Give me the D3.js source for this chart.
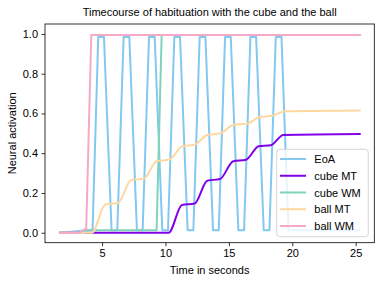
<!DOCTYPE html>
<html>
<head>
<meta charset="utf-8">
<script src="https://cdn.jsdelivr.net/npm/d3@7"></script>
<style>
  body { margin: 0; background: #fff; }
  svg { font-family: "Liberation Sans", Arial, sans-serif; }
</style>
</head>
<body>
<div id="chart"></div>
<script>
// series data (time in s, activation)
var eoaT = [1.6, 3.9, 4.25, 4.7, 5.15, 5.75, 6.2, 6.7, 7.15, 7.75, 8.2, 8.7, 9.15, 9.75, 10.2, 10.7, 11.15, 11.75, 12.2, 12.7, 13.15, 13.75, 14.2, 14.7, 15.15, 15.75, 16.2, 16.7, 17.15, 17.75, 18.2, 18.7, 19.15, 19.7, 25.4];
var eoaV = [0, 0.013, 0.013, 0.985, 0.985, 0.013, 0.013, 0.985, 0.985, 0.013, 0.013, 0.985, 0.985, 0.013, 0.013, 0.985, 0.985, 0.013, 0.013, 0.985, 0.985, 0.013, 0.013, 0.985, 0.985, 0.013, 0.013, 0.985, 0.985, 0.013, 0.013, 0.985, 0.985, 0.013, 0.013];

var cubeMtT = [1.6, 10.25, 11.3, 12.3, 13.3, 14.3, 15.35, 16.35, 17.35, 18.3, 19.3, 25.4];
var cubeMtV = [0, 0, 0.14, 0.147, 0.262, 0.27, 0.36, 0.367, 0.435, 0.44, 0.492, 0.497];

var cubeWmT = [1.6, 3.45, 3.9, 9.3, 9.7, 25.4];
var cubeWmV = [0, 0, 0.013, 0.013, 0.995, 0.995];

var ballMtT = [1.6, 4.2, 5.25, 6.25, 7.3, 8.3, 9.3, 10.3, 11.35, 12.3, 13.3, 14.3, 15.4, 16.4, 17.45, 18.4, 19.45, 25.4];
var ballMtV = [0, 0, 0.142, 0.15, 0.265, 0.272, 0.36, 0.368, 0.435, 0.443, 0.492, 0.5, 0.543, 0.548, 0.582, 0.588, 0.611, 0.615];

var ballWmT = [1.6, 3.25, 3.55, 3.75, 4.15, 25.4];
var ballWmV = [0, 0, 0.015, 0.02, 0.995, 0.995];

var seriesNames = ["EoA", "cube MT", "cube WM", "ball MT", "ball WM"];
var seriesColors = ["#82c8f0", "#8000e8", "#7fd3b8", "#ffd8a0", "#f6a8c8"];
var xTicks = [5, 10, 15, 20, 25];
var yTicks = [0.0, 0.2, 0.4, 0.6, 0.8, 1.0];

function draw() {
    var w = 382, h = 283;
    var left = 45, right = 374.3, top = 24, bottom = 242.7;

    var svg = d3.select("#chart").append("svg")
        .attr("width", w)
        .attr("height", h);

    var x = d3.scaleLinear().domain([0.5, 26.47]).range([left, right]);
    var y = d3.scaleLinear().domain([-0.05, 1.05]).range([bottom, top]);

    var series = [
        {t: eoaT, v: eoaV, smooth: false},
        {t: cubeMtT, v: cubeMtV, smooth: true},
        {t: cubeWmT, v: cubeWmV, smooth: false},
        {t: ballMtT, v: ballMtV, smooth: true},
        {t: ballWmT, v: ballWmV, smooth: false}
    ];

    var g = svg.append("g");
    series.forEach(function(s, i) {
        var pts = s.t.map(function(t, j) { return [t, s.v[j]]; });
        var line = d3.line()
            .x(function(d) { return x(d[0]); })
            .y(function(d) { return y(d[1]); })
            .curve(s.smooth ? d3.curveMonotoneX : d3.curveLinear);
        g.append("path")
            .attr("d", line(pts))
            .attr("fill", "none")
            .attr("stroke", seriesColors[i])
            .attr("stroke-width", 2)
            .attr("stroke-linejoin", "round");
    });

    // axes
    var xAxis = d3.axisBottom(x).tickValues(xTicks).tickFormat(d3.format("d")).tickSizeOuter(0).tickSize(3.5).tickPadding(3.5);
    var yAxis = d3.axisLeft(y).tickValues(yTicks).tickFormat(d3.format(".1f")).tickSizeOuter(0).tickSize(3.5).tickPadding(3.5);

    var gx = svg.append("g").attr("transform", "translate(0," + bottom + ")").call(xAxis);
    var gy = svg.append("g").attr("transform", "translate(" + left + ",0)").call(yAxis);
    [gx, gy].forEach(function(a) {
        a.select(".domain").remove();
        a.selectAll("text").attr("font-size", 11).attr("fill", "#000").attr("font-family", "Liberation Sans, Arial, sans-serif");
        a.selectAll("line").attr("stroke", "#000").attr("stroke-width", 0.8);
    });

    // frame
    svg.append("rect")
        .attr("x", left).attr("y", top)
        .attr("width", right - left).attr("height", bottom - top)
        .attr("fill", "none")
        .attr("stroke", "#000")
        .attr("stroke-width", 0.8);

    // titles
    svg.append("text")
        .attr("x", (left + right) / 2).attr("y", 16)
        .attr("text-anchor", "middle")
        .attr("font-size", 11)
        .text("Timecourse of habituation with the cube and the ball");
    svg.append("text")
        .attr("x", (left + right) / 2).attr("y", 274)
        .attr("text-anchor", "middle")
        .attr("font-size", 11)
        .text("Time in seconds");
    svg.append("text")
        .attr("transform", "translate(16," + (top + bottom) / 2 + ") rotate(-90)")
        .attr("text-anchor", "middle")
        .attr("font-size", 11)
        .text("Neural activation");

    // legend
    var lg = svg.append("g");
    lg.append("rect")
        .attr("x", 276.7).attr("y", 149.3)
        .attr("width", 91.6).attr("height", 87.4)
        .attr("rx", 3)
        .attr("fill", "#fff").attr("fill-opacity", 0.8)
        .attr("stroke", "#ccc").attr("stroke-width", 0.8);
    seriesNames.forEach(function(name, i) {
        var ly = 159 + i * 16.75;
        lg.append("line")
            .attr("x1", 280).attr("x2", 306)
            .attr("y1", ly).attr("y2", ly)
            .attr("stroke", seriesColors[i])
            .attr("stroke-width", 2);
        lg.append("text")
            .attr("x", 314.3).attr("y", ly + 4)
            .attr("font-size", 11)
            .text(name);
    });
}

window.onload = draw;
</script>
</body>
</html>
